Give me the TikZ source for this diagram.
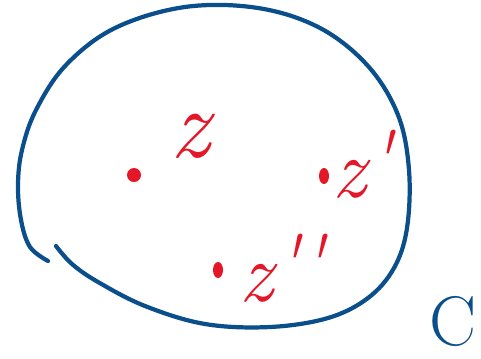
\documentclass[tikz,border=0pt]{standalone}
\usepackage{fontspec}
\usepackage{xcolor}
\usepackage{tikz}
\definecolor{inkblue}{RGB}{10,78,140}
\definecolor{inkred}{RGB}{228,22,40}
\tikzset{
    pointlabel/.style={inkred, font=\fontsize{72}{72}\selectfont\itshape, inner sep=0pt}
}
\newcommand{\hprime}{\raisebox{0.25cm}{\textquotesingle}}

\begin{document}
\begin{tikzpicture}[x=0.03cm, y=-0.03cm]
    \useasboundingbox (0,0) rectangle (481,358);

    % Closed-ish contour, broken at lower left
    \draw[inkblue, line width=3.6pt, line cap=round, line join=round]
        plot[smooth, tension=0.6] coordinates {(48,261) (30,247) (21,220) (18,185) (22,150) (36,110) (66,65) (115,28) (185,7) (258,8) (320,28) (368,66) (398,115) (409,170) (407,228) (394,268) (368,298) (328,318) (270,327) (205,324) (145,306) (98,282) (72,264) (56,246)};

    % Points
    \fill[inkred] (134,175) circle (7);
    \node[pointlabel, font=\fontsize{84}{84}\selectfont\itshape] (z) at (190,136) {z};

    \fill[inkred] (324,176) ellipse (5 and 8);
    \node[pointlabel] (z1) at (362,164) {z\hprime};

    \fill[inkred] (218,270) ellipse (5 and 8);
    \node[pointlabel] (z2) at (282,268) {z\hprime\hprime};

    % Contour name
    \node[inkblue, font=\fontsize{60}{60}\selectfont, inner sep=0pt] (C) at (453,321) {C};
\end{tikzpicture}
\end{document}
